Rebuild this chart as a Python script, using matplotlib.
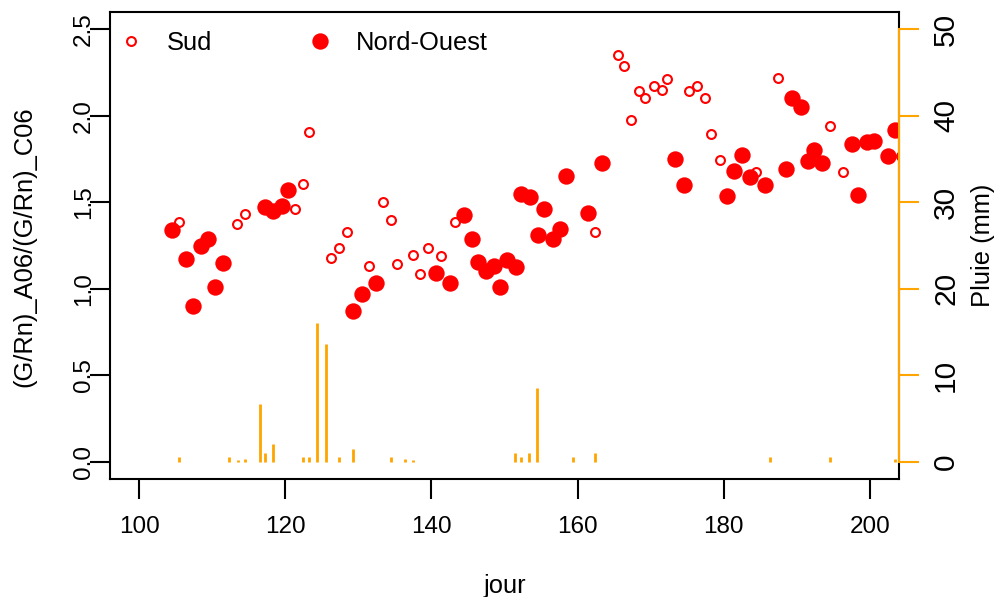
import matplotlib.pyplot as plt
from matplotlib.ticker import FormatStrFormatter

plt.rcParams['font.family'] = ['Liberation Sans', 'DejaVu Sans']

# rapport (G/Rn)_A06/(G/Rn)_C06, parcelle Sud
jour_sud = [105.5, 113.4, 114.5, 121.3, 122.4, 123.3, 126.3, 127.3, 128.5, 131.5,
            133.4, 134.5, 135.3, 137.5, 138.4, 139.5, 141.3, 143.2, 162.4, 165.5,
            166.3, 167.3, 168.4, 169.3, 170.4, 171.5, 172.3, 175.3, 176.3, 177.5,
            178.3, 179.5, 184.4, 187.4, 194.5, 196.4, 204.3]
ratio_sud = [1.386, 1.372, 1.432, 1.463, 1.606, 1.907, 1.175, 1.233, 1.326, 1.129,
             1.500, 1.396, 1.141, 1.197, 1.083, 1.236, 1.187, 1.386, 1.328, 2.349,
             2.289, 1.978, 2.141, 2.104, 2.175, 2.150, 2.210, 2.141, 2.175, 2.105,
             1.896, 1.743, 1.673, 2.220, 1.940, 1.673, 1.770]

# meme rapport, parcelle Nord-Ouest
jour_no = [104.5, 106.4, 107.4, 108.5, 109.4, 110.4, 111.5, 117.2, 118.3, 119.5,
           120.3, 129.3, 130.5, 132.4, 140.6, 142.5, 144.5, 145.5, 146.4, 147.5,
           148.6, 149.4, 150.4, 151.6, 152.3, 153.5, 154.6, 155.4, 156.6, 157.6,
           158.4, 161.4, 163.3, 173.4, 174.6, 180.5, 181.4, 182.5, 183.6, 185.6,
           188.6, 189.4, 190.6, 191.6, 192.4, 193.4, 197.5, 198.4, 199.6, 200.6,
           202.5, 203.5]
ratio_no = [1.338, 1.174, 0.903, 1.245, 1.290, 1.010, 1.149, 1.473, 1.448, 1.477,
            1.569, 0.869, 0.971, 1.033, 1.091, 1.033, 1.428, 1.290, 1.152, 1.100,
            1.129, 1.010, 1.168, 1.126, 1.548, 1.531, 1.311, 1.463, 1.288, 1.347,
            1.650, 1.438, 1.728, 1.751, 1.602, 1.538, 1.683, 1.776, 1.647, 1.602,
            1.693, 2.100, 2.052, 1.741, 1.805, 1.728, 1.838, 1.540, 1.847, 1.857,
            1.766, 1.915]

# pluie journaliere (mm)
jour_pluie = [105.5, 112.3, 113.5, 114.5, 116.5, 117.2, 118.3, 122.4, 123.3, 124.4,
              125.5, 127.4, 129.3, 134.5, 136.4, 137.5, 151.5, 152.3, 153.4, 154.5,
              159.4, 162.4, 186.3, 194.6, 203.5]
pluie = [0.6, 0.6, 0.15, 0.35, 6.65, 1.05, 2.0, 0.6, 0.6, 16.0,
         13.6, 0.6, 1.47, 0.6, 0.35, 0.15, 1.05, 0.6, 1.05, 8.5,
         0.6, 1.05, 0.6, 0.6, 0.3]

FS = 18.4       # titres d'axes et legende
FS_TICK = 17.5  # graduations gauche / bas
FS_TICK2 = 21.5 # graduations pluie
W, H = 1000, 597
fig = plt.figure(figsize=(W / 100, H / 100), dpi=100)
ax = fig.add_axes([110 / W, 1 - 479 / H, 789 / W, 467 / H])

ax.plot(jour_sud, ratio_sud, 'o', ms=6.4, mfc='none', mec='red', mew=1.5, label='Sud')
ax.plot(jour_no, ratio_no, 'o', ms=11.8, mfc='red', mec='red', mew=0, label='Nord-Ouest')

ax.set_xlim(96, 204)
ax.set_ylim(-0.1, 2.6)
ax.set_xticks(range(100, 201, 20))
ax.set_yticks([0, 0.5, 1.0, 1.5, 2.0, 2.5])
ax.yaxis.set_major_formatter(FormatStrFormatter('%.1f'))
ax.tick_params(direction='out', length=14.4, width=1.5, labelsize=FS_TICK)
ax.tick_params(axis='x', pad=12.5)
ax.tick_params(axis='y', pad=-3.5)
for lbl in ax.get_yticklabels():
    lbl.set_rotation(90)
    lbl.set_va('center')
for s in ax.spines.values():
    s.set_linewidth(1.5)

ax.legend(loc='upper left', bbox_to_anchor=(116 / W, 1 - 31 / H), bbox_transform=fig.transFigure,
          ncol=2, frameon=False, fontsize=FS, handlelength=1.2, handletextpad=0.8,
          columnspacing=3.6, borderpad=0, borderaxespad=0, numpoints=1)

# axe secondaire : pluie
ax2 = ax.twinx()
ax2.vlines(jour_pluie, 0, pluie, color='orange', lw=2)
ax2.set_ylim(-2, 52)
ax2.set_yticks(range(0, 51, 10))
for side in ['top', 'bottom', 'left']:
    ax2.spines[side].set_visible(False)
ax2.spines['right'].set_color('orange')
ax2.spines['right'].set_linewidth(1.5)
ax2.spines['right'].set_bounds(0, 50)
ax2.tick_params(direction='out', length=14.4, width=1.5, color='orange',
                labelcolor='black', labelsize=FS_TICK2, pad=9.5)
for lbl in ax2.get_yticklabels():
    lbl.set_rotation(90)
    lbl.set_va('center')

fig.text(24 / W, 1 - 247 / H, '(G/Rn)_A06/(G/Rn)_C06', rotation=90,
         ha='center', va='center', fontsize=FS)
fig.text(983 / W, 1 - 245 / H, 'Pluie (mm)', rotation=90,
         ha='center', va='center', fontsize=FS)
fig.text(505 / W, (H - 593) / H, 'jour', ha='center', va='baseline', fontsize=FS)

fig.savefig('out.png', dpi=100)
